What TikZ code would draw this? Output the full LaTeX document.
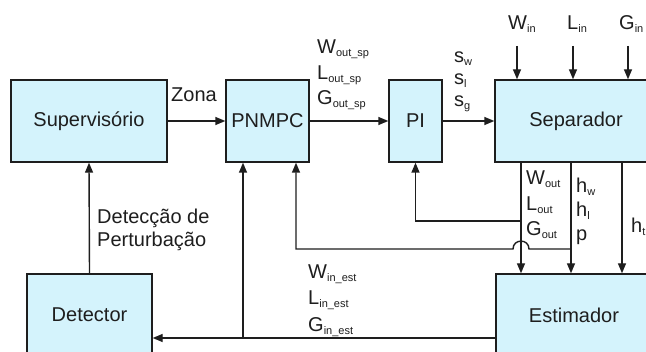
\documentclass[tikz,border=0pt]{standalone}
\usepackage{fontspec}
\setmainfont{Liberation Sans}
\usetikzlibrary{arrows.meta}
\definecolor{boxfill}{RGB}{212,243,252}
\definecolor{ink}{RGB}{30,30,30}
\newcommand\sbx[1]{\raisebox{-3pt}{\fontsize{11}{11}\selectfont #1}}
\begin{document}
\begin{tikzpicture}[x=1pt,y=-1pt,
  blk/.style={draw=ink, line width=1.4pt, fill=boxfill, inner sep=0pt,
    font=\fontsize{20}{24}\selectfont, text=ink},
  conn/.style={line width=1.4pt, draw=ink},
  arr/.style={conn, -{Triangle[length=10pt,width=8pt]}},
  lbl/.style={anchor=base west, inner sep=0pt, font=\fontsize{20}{24}\selectfont, text=ink}]
\useasboundingbox (0,0) rectangle (646,352);
\clip (0,0) rectangle (646,352);
\fill[white] (0,0) rectangle (646,352);

% blocks
\node[blk, minimum width=156pt, minimum height=82pt] (sup) at (89,121) {Supervisório};
\node[blk, minimum width=83pt, minimum height=82pt] (pnmpc) at (267.5,121) {PNMPC};
\node[blk, minimum width=53pt, minimum height=82pt] (pi) at (415.5,121) {PI};
\node[blk, minimum width=162pt, minimum height=82pt] (sep) at (576,121) {Separador};
\node[blk, minimum width=125pt, minimum height=82pt] (det) at (89.5,315) {Detector};
\node[blk, minimum width=156pt, minimum height=82pt] (est) at (574,315) {Estimador};

% coordinates
\coordinate (win) at (517,46);
\coordinate (lin) at (573,46);
\coordinate (gin) at (628,46);
\coordinate (a) at (521,221);
\coordinate (b) at (571,249);
\coordinate (t) at (622,249);
\coordinate (hopR) at (529,249);
\coordinate (hopL) at (513,249);
\coordinate (c) at (296,249);
\coordinate (j1) at (243,338);

% main chain
\draw[arr] (sup.east) -- (pnmpc.west);
\draw[arr] (pnmpc.east) -- (pi.west);
\draw[arr] (pi.east) -- (sep.west);

% separator inputs
\draw[arr] (win) -- (win |- sep.north);
\draw[arr] (lin) -- (lin |- sep.north);
\draw[arr] (gin) -- (gin |- sep.north);

% separator outputs to estimator
\draw[arr] (a |- sep.south) -- (a |- est.north);
\draw[arr] (b |- sep.south) -- (b |- est.north);
\draw[arr] (t |- sep.south) -- (t |- est.north);

% feedback to PI
\draw[arr] (a) -- (a -| pi.south) -- (pi.south);

% feedback to PNMPC with hop
\draw[arr] (b) -- (hopR) .. controls (529,238.5) and (513,238.5) .. (hopL) -- (c) -- (c |- pnmpc.south);

% estimator to detector and PNMPC
\draw[arr] (est.west |- j1) -- (det.east |- j1);
\draw[arr] (j1) -- (j1 |- pnmpc.south);

% detector to supervisory
\draw[arr] (det.north) -- (sup.south);

% labels
\node[lbl] (lzona) at (171,102) {Zona};
\node[lbl] (lwsp) at (317,54) {W\sbx{out\_sp}};
\node[lbl] (llsp) at (317,80) {L\sbx{out\_sp}};
\node[lbl] (lgsp) at (317,105) {G\sbx{out\_sp}};
\node[lbl] (lsw) at (454,63) {s\sbx{w}};
\node[lbl] (lsl) at (454,85) {s\sbx{l}};
\node[lbl] (lsg) at (454,107) {s\sbx{g}};
\node[lbl] (lwin) at (508,30) {W\sbx{in}};
\node[lbl] (llin) at (567,30) {L\sbx{in}};
\node[lbl] (lgin) at (619,30) {G\sbx{in}};
\node[lbl] (lwout) at (526,185) {W\sbx{out}};
\node[lbl] (llout) at (526,211) {L\sbx{out}};
\node[lbl] (lgout) at (526,236) {G\sbx{out}};
\node[lbl] (lhw) at (576,193) {h\sbx{w}};
\node[lbl] (lhl) at (576,217) {h\sbx{l}};
\node[lbl] (lp) at (576,241) {p};
\node[lbl] (lht) at (631,233) {h\sbx{t}};
\node[lbl] (ldet1) at (97,224) {Detecção de};
\node[lbl] (ldet2) at (97,247) {Perturbação};
\node[lbl] (lwe) at (308,279) {W\sbx{in\_est}};
\node[lbl] (lle) at (308,305) {L\sbx{in\_est}};
\node[lbl] (lge) at (308,332) {G\sbx{in\_est}};
\end{tikzpicture}
\end{document}
